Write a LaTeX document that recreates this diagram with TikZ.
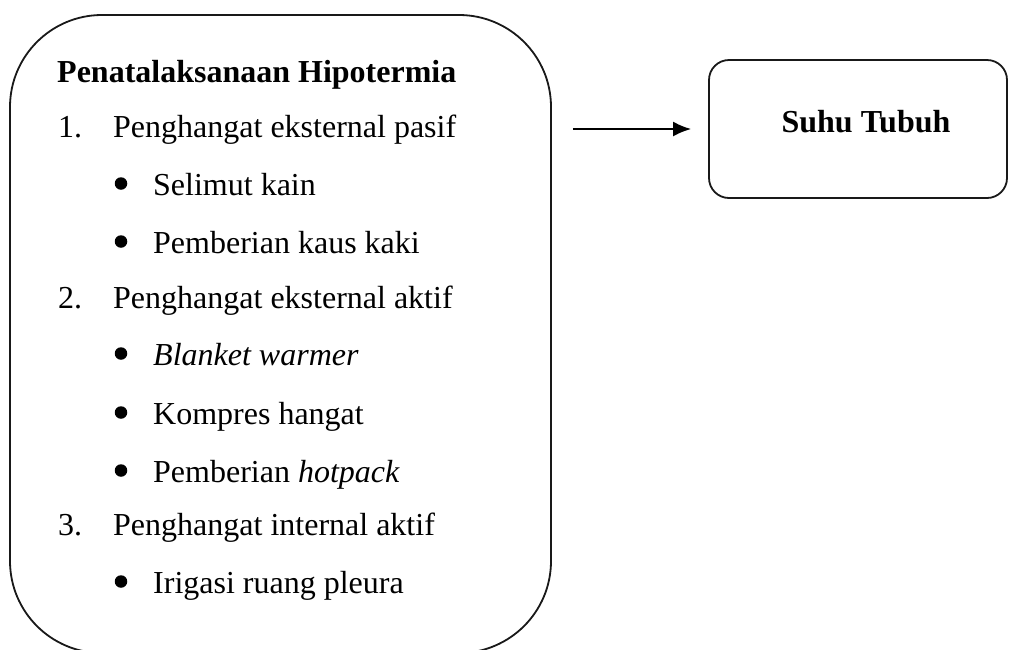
\documentclass[tikz,border=0pt]{standalone}
\usepackage{fontspec}
\setmainfont{Liberation Serif}
\usetikzlibrary{arrows.meta}
\begin{document}
\begin{tikzpicture}[x=1pt,y=-1pt,
  boxline/.style={draw=black!90, line width=1.8pt},
  bigbox/.style={boxline, rounded corners=92pt, rectangle, inner sep=0pt},
  smallbox/.style={boxline, rounded corners=20pt, rectangle, inner sep=0pt},
  txt/.style={anchor=base west, inner sep=0pt, font=\fontsize{32}{38}\selectfont},
  btxt/.style={txt, font=\fontsize{32}{38}\selectfont\bfseries},
  dot/.style={circle, fill=black, inner sep=0pt, minimum size=12.5pt},
  conn/.style={line width=2pt, -{Latex[length=18pt,width=15pt]}}]
\useasboundingbox (0,0) rectangle (1009,649);
\clip (0,0) rectangle (1009,649);
% main box: x 10..551, y 15..653
\node[bigbox, minimum width=541pt, minimum height=638pt] (main) at (280.5,334) {};
% right box: x 709..1007, y 60..198
\node[smallbox, minimum width=298pt, minimum height=138pt] (suhu) at (858,129) {};
\node[btxt, anchor=base] (suhut) at (866,132) {Suhu Tubuh};
% texts
\node[btxt] (title) at (57,82) {Penatalaksanaan Hipotermia};
\node[txt] (n1) at (58,137) {1.};
\node[txt] (t1) at (113,137) {Penghangat eksternal pasif};
\node[dot] (b1) at (121,183.5) {};
\node[txt] (s1) at (153,195) {Selimut kain};
\node[dot] (b2) at (121,241.5) {};
\node[txt] (s2) at (153,253) {Pemberian kaus kaki};
\node[txt] (n2) at (58,308) {2.};
\node[txt] (t2) at (113,308) {Penghangat eksternal aktif};
\node[dot] (b3) at (121,353.5) {};
\node[txt] (s3) at (153,365) {\itshape Blanket warmer};
\node[dot] (b4) at (121,412.5) {};
\node[txt] (s4) at (153,424) {Kompres hangat};
\node[dot] (b5) at (121,470.5) {};
\node[txt] (s5) at (153,482) {Pemberian \itshape hotpack};
\node[txt] (n3) at (58,535) {3.};
\node[txt] (t3) at (113,535) {Penghangat internal aktif};
\node[dot] (b6) at (121,581.5) {};
\node[txt] (s6) at (153,593) {Irigasi ruang pleura};
% arrow
\draw[conn, shorten <=21pt, shorten >=17pt] (main.east |- suhu.west) -- (suhu.west);
\end{tikzpicture}
\end{document}
